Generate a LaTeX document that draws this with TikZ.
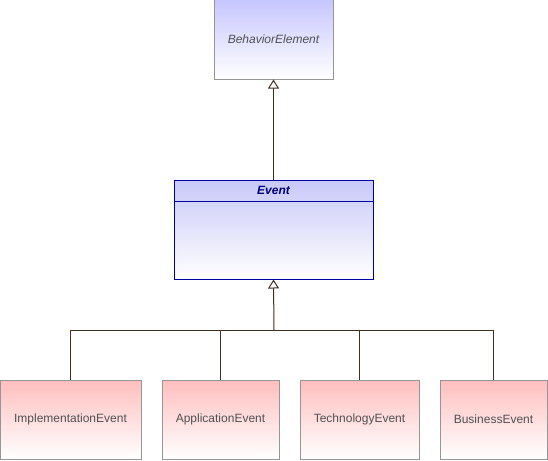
\documentclass[tikz,border=0pt]{standalone}
\usepackage{fontspec}
\setmainfont{Liberation Sans}
\usetikzlibrary{arrows.meta, calc}
\usetikzlibrary{positioning}

\definecolor{linebrown}{RGB}{64,48,32}
\definecolor{boxgray}{RGB}{150,150,150}
\definecolor{abstblue}{RGB}{198,198,255}
\definecolor{evblue}{RGB}{0,0,160}
\definecolor{evtop}{RGB}{200,200,248}
\definecolor{evtext}{RGB}{0,0,120}
\definecolor{eventpink}{RGB}{255,190,190}
\definecolor{textgray}{RGB}{80,80,80}

\begin{document}
\begin{tikzpicture}
  [
    x=1pt, y=-1pt,
    every node/.style={font=\fontsize{12}{14}\selectfont},
    abstr/.style = {draw=boxgray, line width=1pt, rectangle, top color=abstblue, bottom color=white,
                    text=textgray, font=\fontsize{12}{14}\selectfont\itshape, inner sep=0pt},
    evbox/.style = {draw=evblue, line width=1pt, rectangle, top color=evtop, bottom color=white, inner sep=0pt},
    evhead/.style = {draw=evblue, line width=1pt, rectangle, text=evtext, inner sep=0pt,
                     font=\fontsize{12}{14}\selectfont\bfseries\itshape},
    leaf/.style  = {draw=boxgray, line width=1pt, rectangle, top color=eventpink, bottom color=white,
                    text=textgray, minimum height=79pt, inner sep=0pt},
    gen/.style   = {draw=linebrown, line width=1pt},
    genarrow/.style = {gen, -{Triangle[open, length=9pt, width=11pt, fill=white]}},
  ]

  \useasboundingbox (0,0) rectangle (548,460);

  % parent classes
  \node (behavior) at (273.5,39.5) [abstr, minimum width=119pt, minimum height=79pt] {BehaviorElement};

  \node (event) at (273.5,229.5) [evbox, minimum width=199pt, minimum height=99pt] {};
  \node (eventhead) at (event.north) [evhead, anchor=north, minimum width=199pt, minimum height=21pt] {Event};

  % the concrete events
  \node (impl) at (70.5,419.5)  [leaf, minimum width=141pt] {ImplementationEvent};
  \node (appl) at (220.5,419.5) [leaf, minimum width=117pt] {ApplicationEvent};
  \node (tech) at (359.5,419.5) [leaf, minimum width=119pt] {TechnologyEvent};
  \node (busi) at (493.5,419.5) [leaf, minimum width=107pt] {BusinessEvent};

  \coordinate (bus) at (274,330);

  \draw[genarrow] (event.north) -- (behavior.south);
  \draw[genarrow] (bus) -- (event.south);

  \foreach \child in {impl, appl, tech, busi}
    \draw[gen] (\child.north) |- (bus);

\end{tikzpicture}
\end{document}
